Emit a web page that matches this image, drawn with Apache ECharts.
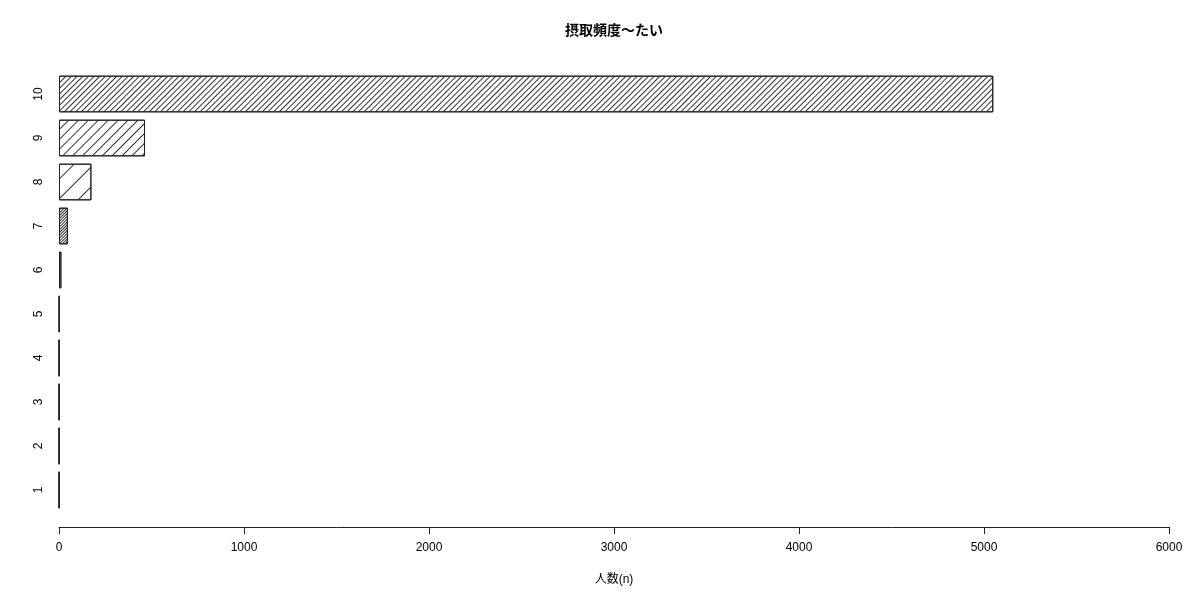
<!DOCTYPE html>
<html>
<head>
<meta charset="utf-8">
<script src="https://cdn.jsdelivr.net/npm/echarts@6/dist/echarts.min.js"></script>
<style>
  html, body { margin: 0; padding: 0; background: #fff; }
  #chart { width: 1200px; height: 600px; }
</style>
</head>
<body>
<div id="chart"></div>
<script>
// 摂取頻度（たい）ごとの人数
const categories = ['1', '2', '3', '4', '5', '6', '7', '8', '9', '10'];
const counts = [1, 1, 1, 1, 2, 13, 48, 175, 465, 5050];
const xTicks = [0, 1000, 2000, 3000, 4000, 5000, 6000];

// 斜線の間隔 (px) — R の density 相当
const hatchGap = [1.2, 1.2, 1.2, 1.2, 1.2, 1.4, 1.0, 13, 5.8, 3.0];

const FONT = '"Liberation Sans", "Noto Sans CJK JP", sans-serif';

const chart = echarts.init(document.getElementById('chart'));

chart.setOption({
  backgroundColor: '#fff',
  animation: false,
  title: {
    text: '摂取頻度〜たい',
    left: 560,
    top: 19,
    textStyle: { fontFamily: FONT, fontSize: 14, fontWeight: 'bold', color: '#000' },
  },
  grid: { left: 59, right: 31, top: 72, bottom: 88 },
  xAxis: {
    type: 'value',
    min: xTicks[0],
    max: xTicks[xTicks.length - 1],
    interval: 1000,
    offset: 15,
    name: '人数(n)',
    nameLocation: 'middle',
    nameGap: 47,
    nameTextStyle: { fontFamily: FONT, fontSize: 12, color: '#000' },
    axisLine: { show: true, lineStyle: { color: '#222', width: 1 } },
    axisTick: { show: true, length: 7, lineStyle: { color: '#222' } },
    axisLabel: {
      fontFamily: FONT, fontSize: 12, color: '#000', margin: 15,
      formatter: v => String(v),
    },
    splitLine: { show: false },
  },
  yAxis: {
    type: 'category',
    data: categories,
    axisLine: { show: false },
    axisTick: { show: false },
    axisLabel: { rotate: 90, fontFamily: FONT, fontSize: 12, color: '#000', margin: 14 },
  },
  series: [{
    type: 'bar',
    barCategoryGap: '16.7%',
    data: counts.map((v, i) => ({
      value: v,
      itemStyle: {
        decal: {
          symbol: 'rect',
          symbolSize: 1,
          color: '#333',
          dashArrayX: [1, 0],
          dashArrayY: [1, hatchGap[i]],
          rotation: -Math.PI / 4,
        },
      },
    })),
    itemStyle: { color: '#fff', borderColor: '#222', borderWidth: 1 },
  }],
});
</script>
</body>
</html>
